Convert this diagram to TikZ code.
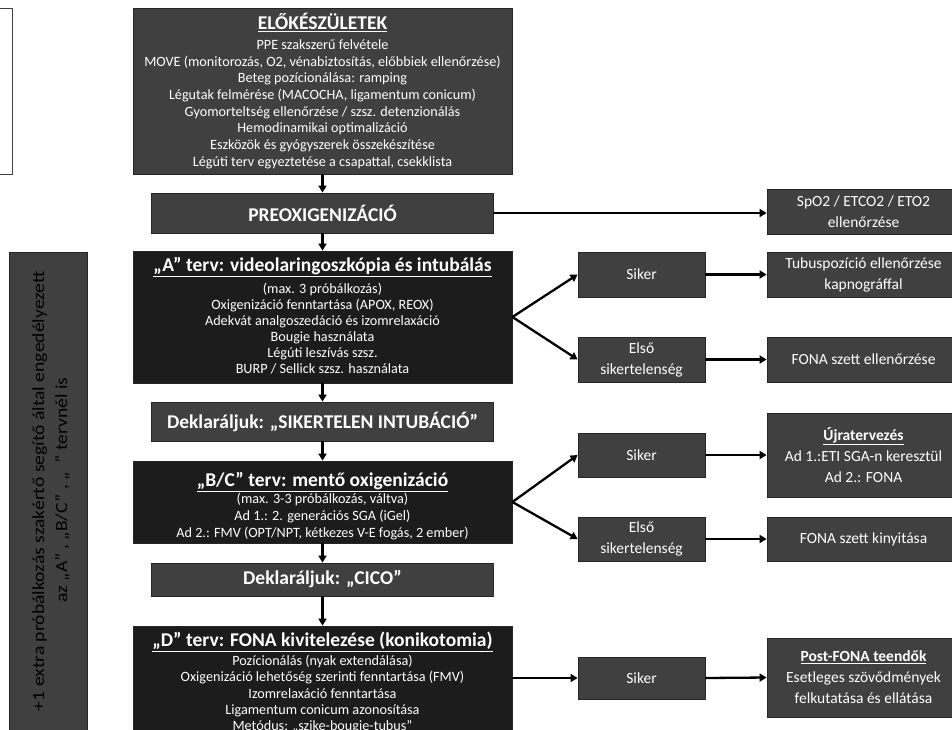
\documentclass[tikz,border=0pt]{standalone}
\usepackage{fontspec}
\setmainfont{Carlito}
\usetikzlibrary{arrows.meta}
\definecolor{boxgray}{HTML}{404040}
\definecolor{boxdark}{HTML}{1C1C1C}
\definecolor{boxline}{HTML}{262626}
\newcommand{\ttl}[1]{{\fontsize{19.5}{22}\selectfont\bfseries\underline{#1}}}
\newcommand{\bigt}[1]{{\fontsize{19.5}{22}\selectfont\bfseries #1}}
\newcommand{\rttl}[1]{{\bfseries\underline{#1}}}
\newcommand{\tightlines}{\lineskiplimit=-20pt\relax}
\newsavebox{\notelineA}
\newsavebox{\notelineB}
\begin{document}
\sbox{\notelineA}{\fontsize{17}{20}\selectfont +1 extra próbálkozás szakértő segítő által engedélyezett}%
\sbox{\notelineB}{\fontsize{17}{20}\selectfont az „A” , „B/C” , „\ \ ” tervnél is}%
\pgfmathsetmacro{\notescale}{440/\wd\notelineA}%
\begin{tikzpicture}[x=1pt,y=-1pt,
  basebox/.style={draw=boxline, line width=0.8pt, text=white, align=center, inner sep=2pt},
  gbox/.style={basebox, fill=boxgray, font=\fontsize{14.2}{16.7}\selectfont},
  dbox/.style={basebox, fill=boxdark},
  btext/.style={text=white, align=center, inner sep=0pt},
  rbox/.style={basebox, fill=boxgray, font=\fontsize{15.5}{21}\selectfont},
  arr/.style={-{Triangle[length=7pt,width=8pt]}, line width=2.3pt, black}]
\clip (0,0) rectangle (952,729);
\fill[white] (0,0) rectangle (952,729);

% partial box at top left
\node[draw=black!75, fill=white, line width=0.8pt, minimum width=30pt, minimum height=166pt, inner sep=0pt] (tl) at (-3,91) {};

% left note
\node[basebox, fill=boxgray, minimum width=78pt, minimum height=490pt] (note) at (48,497) {};
\node[text=white, rotate=90, inner sep=0pt, anchor=base] (notea) at (44,491) {\scalebox{\notescale}[1]{\usebox{\notelineA}}};
\node[text=white, rotate=90, inner sep=0pt, anchor=base] (noteb) at (67,490) {\scalebox{\notescale}[1]{\usebox{\notelineB}}};

% main column
\node[gbox, minimum width=379pt, minimum height=166pt] (prep) at (322.5,91)
  {\ttl{ELŐKÉSZÜLETEK}\\[3pt]
   PPE szakszerű felvétele\\
   MOVE (monitorozás, O2, vénabiztosítás, előbbiek ellenőrzése)\\
   Beteg pozícionálása: ramping\\
   Légutak felmérése (MACOCHA, ligamentum conicum)\\
   Gyomorteltség ellenőrzése / szsz. detenzionálás\\
   Hemodinamikai optimalizáció\\
   Eszközök és gyógyszerek összekészítése\\
   Légúti terv egyeztetése a csapattal, csekklista};

\node[gbox, minimum width=342pt, minimum height=40pt] (preox) at (322.5,213) {\bigt{PREOXIGENIZÁCIÓ}};

\node[dbox, minimum width=379pt, minimum height=132pt] (planA) at (322.5,317) {};
\node[btext, font=\fontsize{14.2}{16}\selectfont] (planAtxt) at (322.5,315.5)
  {\ttl{„A” terv: videolaringoszkópia és intubálás}\\[6pt]
   (max. 3 próbálkozás)\\
   Oxigenizáció fenntartása (APOX, REOX)\\
   Adekvát analgoszedáció és izomrelaxáció\\
   Bougie használata\\
   Légúti leszívás szsz.\\
   BURP / Sellick szsz. használata};

\node[gbox, minimum width=342pt, minimum height=39pt] (failint) at (322.5,421.5) {\bigt{Deklaráljuk: „SIKERTELEN INTUBÁCIÓ”}};

\node[dbox, minimum width=379pt, minimum height=82pt] (planBC) at (322.5,502) {};
\node[btext, font=\fontsize{14.2}{17}\selectfont] (planBCtxt) at (322.5,506)
  {\ttl{„B/C” terv: mentő oxigenizáció}\\[0pt]
   (max. 3-3 próbálkozás, váltva)\\
   Ad 1.: 2. generációs SGA (iGel)\\
   Ad 2.: FMV (OPT/NPT, kétkezes V-E fogás, 2 ember)};

\node[gbox, minimum width=342pt, minimum height=33pt] (cico) at (322.5,579.5) {\bigt{Deklaráljuk: „CICO”}};

\node[dbox, minimum width=379pt, minimum height=114pt] (planD) at (322.5,683) {};
\node[btext, font=\fontsize{14.2}{16.2}\selectfont] (planDtxt) at (322.5,682.5)
  {\tightlines\ttl{„D” terv: FONA kivitelezése (konikotomia)}\\[3pt]
   Pozícionálás (nyak extendálása)\\
   Oxigenizáció lehetőség szerinti fenntartása (FMV)\\
   Izomrelaxáció fenntartása\\
   Ligamentum conicum azonosítása\\
   Metódus: „szike-bougie-tubus”};

% middle column
\node[rbox, minimum width=127pt, minimum height=45pt] (sikerA) at (641.5,274.5) {Siker};
\node[rbox, minimum width=127pt, minimum height=45pt] (elsoA) at (641.5,359.5) {Első\\sikertelenség};
\node[rbox, minimum width=127pt, minimum height=44pt] (sikerBC) at (641.5,455) {Siker};
\node[rbox, minimum width=127pt, minimum height=44pt] (elsoBC) at (641.5,539) {Első\\sikertelenség};
\node[rbox, minimum width=127pt, minimum height=42pt] (sikerD) at (641.5,678) {Siker};

% right column
\node[rbox, minimum width=193pt, minimum height=45pt] (spo2) at (863.5,212) {SpO2 / ETCO2 / ETO2\\ellenőrzése};
\node[rbox, minimum width=193pt, minimum height=45pt] (tubus) at (863.5,274.5) {Tubuspozíció ellenőrzése\\kapnográffal};
\node[rbox, minimum width=193pt, minimum height=45pt] (fonaA) at (863.5,359.5) {FONA szett ellenőrzése};
\node[rbox, minimum width=193pt, minimum height=84pt] (ujra) at (863.5,455) {\rttl{Újratervezés}\\Ad 1.:ETI SGA-n keresztül\\Ad 2.: FONA};
\node[rbox, minimum width=193pt, minimum height=44pt] (fonaBC) at (863.5,539) {FONA szett kinyitása};
\node[rbox, minimum width=193pt, minimum height=79pt] (post) at (863.5,677.5) {\rttl{Post-FONA teendők}\\Esetleges szövődmények\\felkutatása és ellátása};

% connectors
\draw[arr] (prep.south) -- (preox.north);
\draw[arr] (preox.south) -- (planA.north);
\draw[arr] (planA.south) -- (failint.north);
\draw[arr] (failint.south) -- (planBC.north);
\draw[arr] (planBC.south) -- (cico.north);
\draw[arr] (cico.south) -- (planD.north);

\draw[arr] (preox.east) -- (preox.east -| spo2.west);

\draw[arr] (planA.east) -- (sikerA.west);
\draw[arr] (planA.east) -- (elsoA.west);
\draw[arr] (sikerA.east) -- (tubus.west);
\draw[arr] (elsoA.east) -- (fonaA.west);

\draw[arr] (planBC.east) -- (sikerBC.west);
\draw[arr] (planBC.east) -- (elsoBC.west);
\draw[arr] (sikerBC.east) -- (ujra.west);
\draw[arr] (elsoBC.east) -- (fonaBC.west);

\draw[arr] (sikerD.west -| planD.east) -- (sikerD.west);
\draw[arr] (sikerD.east) -- (post.west);
\end{tikzpicture}
\end{document}
